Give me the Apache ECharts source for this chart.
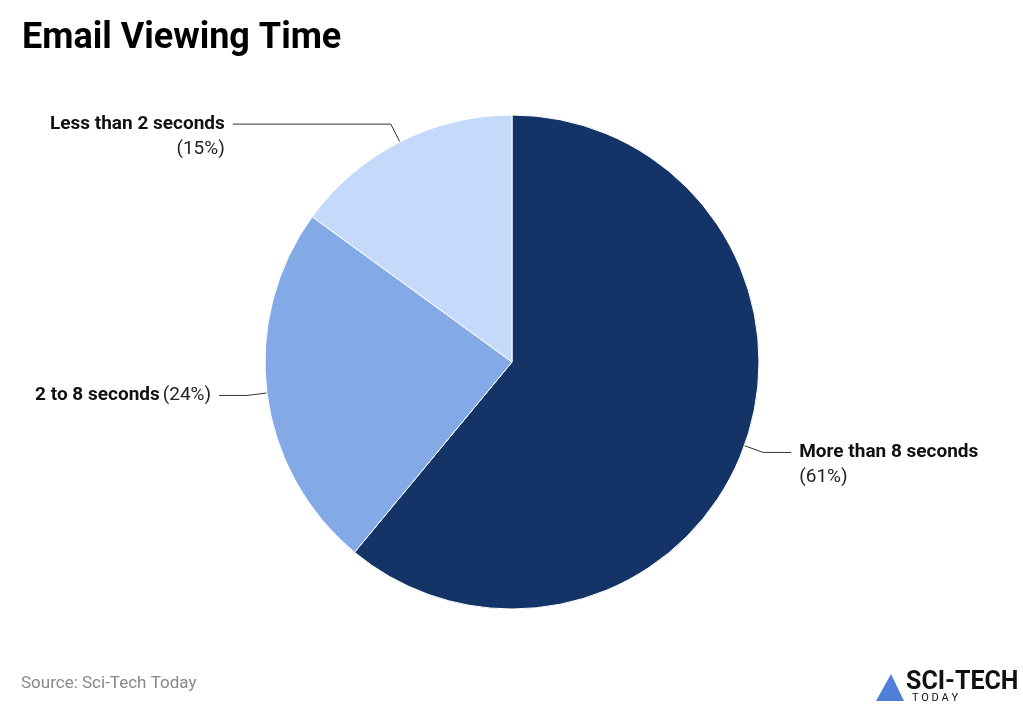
<!DOCTYPE html>
<html><head><meta charset="utf-8">
<script src="https://cdn.jsdelivr.net/npm/echarts@6/dist/echarts.min.js"></script>
<style>html,body{margin:0;background:#fff}#main{width:1023px;height:707px}</style>
</head><body><div id="main"></div>
<script>
var categories = ['More than 8 seconds', '2 to 8 seconds', 'Less than 2 seconds'];
var values = [61, 24, 15];
var colors = ['#143468', '#83a9e6', '#c5d9fa'];
var lineLen2 = [28, 28, 158];

var chart = echarts.init(document.getElementById('main'));
var data = categories.map(function (c, i) {
  var twoLine = i !== 1;
  return {
    name: c, value: values[i], itemStyle: { color: colors[i] },
    label: { formatter: '{b|' + c + '}' + (twoLine ? '\n' : ' ') + '{p|(' + values[i] + '%)}',
             align: i === 0 ? 'left' : 'right', padding: twoLine ? [25, 0, 0, 0] : 0 },
    labelLine: { length2: lineLen2[i] }
  };
});
chart.setOption({
  title: [
    { text: 'Email Viewing Time', left: 17, top: 16,
      textStyle: { fontFamily: 'Roboto', fontWeight: 'bold', fontSize: 36, color: '#000' } },
    { text: 'Source: Sci-Tech Today', left: 16, top: 670,
      textStyle: { fontFamily: 'Roboto', fontWeight: 'normal', fontSize: 17, color: '#888' } }
  ],
  graphic: [
    { type: 'text', left: 906, top: 670, style: { text: 'SCI-TECH', font: 'bold 25px Roboto', fill: '#111' } },
    { type: 'text', left: 912, top: 693, style: { text: 'T O D A Y', font: '11px Roboto', fill: '#111' } },
    { type: 'polygon', shape: { points: [[876, 701], [891, 674], [904, 701]] }, style: { fill: '#4f7fd6' } }
  ],
  series: [{
    type: 'pie', center: [512, 362], radius: 247, startAngle: 90, clockwise: true,
    animation: false,
    itemStyle: { borderColor: '#fff', borderWidth: 1 },
    label: {
      fontFamily: 'Roboto', lineHeight: 25, distanceToLabelLine: 8,
      rich: {
        b: { fontFamily: 'Roboto', fontWeight: 'bold', fontSize: 19, color: '#111', lineHeight: 25 },
        p: { fontFamily: 'Roboto', fontSize: 19, color: '#222', lineHeight: 25 }
      }
    },
    labelLine: { length: 20, lineStyle: { color: '#333', width: 1 } },
    data: data
  }]
});
</script></body></html>
